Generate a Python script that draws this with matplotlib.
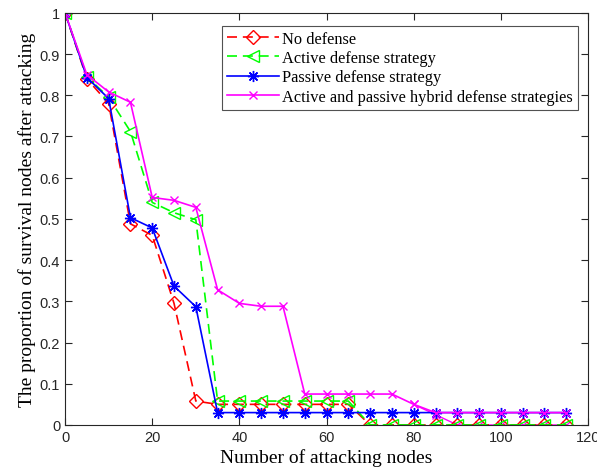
import matplotlib.pyplot as plt
import numpy as np

# attack counts
nodes = list(range(0, 120, 5))

no_defense = [1.0, 0.84, 0.78, 0.488, 0.46, 0.295, 0.058, 0.05, 0.05, 0.05, 0.05, 0.05, 0.05, 0.05,
              0, 0, 0, 0, 0, 0, 0, 0, 0, 0]
active = [1.0, 0.845, 0.795, 0.712, 0.54, 0.515, 0.498, 0.058, 0.058, 0.058, 0.058, 0.058, 0.058, 0.058,
          0, 0, 0, 0, 0, 0, 0, 0, 0, 0]
passive = [1.0, 0.843, 0.792, 0.503, 0.478, 0.337, 0.287, 0.03, 0.03, 0.03, 0.03, 0.03, 0.03, 0.03,
           0.03, 0.03, 0.03, 0.03, 0.03, 0.03, 0.03, 0.03, 0.03, 0.03]
hybrid = [1.0, 0.85, 0.808, 0.783, 0.552, 0.545, 0.528, 0.328, 0.295, 0.288, 0.288, 0.075, 0.075, 0.075,
          0.075, 0.075, 0.05, 0.03, 0.03, 0.03, 0.03, 0.03, 0.03, 0.03]
# second magenta trace that drops to zero (no legend entry)
hybrid_tail_x = [80, 85, 90, 95, 100, 105, 110, 115]
hybrid_tail = [0.05, 0.025, 0, 0, 0, 0, 0, 0]

labels = ['No defense', 'Active defense strategy', 'Passive defense strategy',
          'Active and passive hybrid defense strategies']

MAG = '#ff00ff'
GRN = '#00ff00'

fig = plt.figure(figsize=(5.97, 4.77), dpi=100)
ax = fig.add_axes([0.109, 0.107, 0.876, 0.864])

dash = (0, (6, 3.5))
ax.plot(hybrid_tail_x, hybrid_tail, color=MAG, lw=1.0, marker='x', ms=6, mew=1.0)
ax.plot(nodes, no_defense, color='r', ls=dash, lw=1.2, marker='D', ms=7.5, mfc='none', mew=1.0, label=labels[0])
ax.plot(nodes, active, color=GRN, ls=dash, lw=1.2, marker='<', ms=8.5, mfc='none', mew=1.0, label=labels[1])
ax.plot(nodes, passive, color='b', lw=1.2, marker=(8, 2, 0), ms=8, mew=1.0, label=labels[2])
ax.plot(nodes, hybrid, color=MAG, lw=1.2, marker='x', ms=6, mew=1.0, label=labels[3])

ax.set_xlim(0, 120)
ax.set_ylim(0, 1)
ax.set_xticks(np.arange(0, 121, 20))
ax.set_yticks(np.arange(0, 1.01, 0.1))
ax.set_yticklabels(['0', '0.1', '0.2', '0.3', '0.4', '0.5', '0.6', '0.7', '0.8', '0.9', '1'])
ax.tick_params(direction='in', top=True, right=True, labelsize=10.5, length=5, colors='#262626')
for lab in ax.get_xticklabels() + ax.get_yticklabels():
    lab.set_family('Liberation Sans')
for s in ax.spines.values():
    s.set_color('#262626')
    s.set_linewidth(0.8)

ax.set_xlabel('Number of attacking nodes', family='Liberation Serif', fontsize=14, labelpad=3)
ax.set_ylabel('The proportion of survival nodes after attacking', family='Liberation Serif', fontsize=14, labelpad=3)

leg = ax.legend(loc='upper right', bbox_to_anchor=(0.981, 0.968), prop={'family': 'Liberation Serif', 'size': 11.8},
                frameon=True, fancybox=False, edgecolor='#262626', handlelength=3.2, handletextpad=0.2,
                borderpad=0.3, labelspacing=0.2, borderaxespad=0)
leg.get_frame().set_linewidth(0.8)

fig.savefig('out.png', dpi=100)
